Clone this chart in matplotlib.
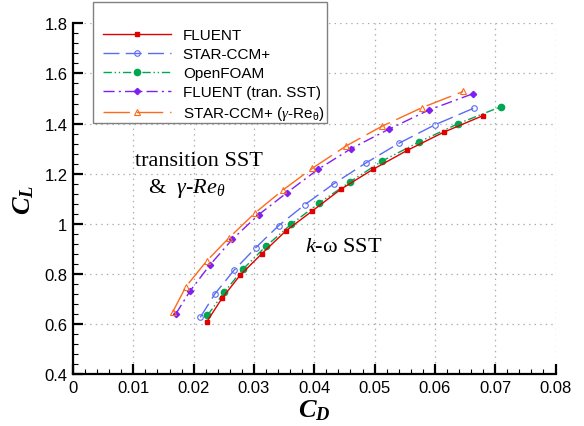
import numpy as np
import matplotlib
matplotlib.use("Agg")
import matplotlib.pyplot as plt
from matplotlib.patches import Rectangle
from matplotlib.ticker import MultipleLocator, FormatStrFormatter

plt.rcParams['font.family'] = ['Liberation Sans', 'DejaVu Sans']
plt.rcParams['mathtext.fontset'] = 'custom'
plt.rcParams['mathtext.rm'] = 'Liberation Serif'
plt.rcParams['mathtext.it'] = 'Liberation Serif:italic'
plt.rcParams['mathtext.bf'] = 'Liberation Serif:bold'
plt.rcParams['mathtext.bfit'] = 'Liberation Serif:italic:bold'
plt.rcParams['mathtext.sf'] = 'Liberation Sans'
plt.rcParams['lines.scale_dashes'] = False

# data (C_D, C_L)
fluent_cd = [0.0222, 0.0247, 0.0277, 0.0313, 0.0353, 0.0397, 0.0444, 0.0497, 0.0554, 0.0615, 0.0680]
fluent_cl = [0.610, 0.703, 0.795, 0.881, 0.972, 1.052, 1.138, 1.217, 1.293, 1.366, 1.432]

star_cd = [0.0211, 0.0235, 0.0267, 0.0303, 0.0341, 0.0384, 0.0433, 0.0485, 0.0540, 0.0600, 0.0665]
star_cl = [0.627, 0.720, 0.815, 0.905, 0.993, 1.076, 1.161, 1.242, 1.321, 1.395, 1.462]

foam_cd = [0.0223, 0.0251, 0.0282, 0.0320, 0.0362, 0.0408, 0.0459, 0.0512, 0.0574, 0.0639, 0.0710]
foam_cl = [0.635, 0.728, 0.820, 0.911, 0.999, 1.083, 1.167, 1.250, 1.327, 1.400, 1.468]

ftran_cd = [0.0170, 0.0194, 0.0227, 0.0264, 0.0308, 0.0355, 0.0406, 0.0461, 0.0524, 0.0590, 0.0663]
ftran_cl = [0.639, 0.732, 0.836, 0.938, 1.037, 1.125, 1.217, 1.300, 1.378, 1.454, 1.519]

sgam_cd = [0.0165, 0.0187, 0.0222, 0.0259, 0.0301, 0.0348, 0.0397, 0.0453, 0.0512, 0.0579, 0.0647]
sgam_cl = [0.647, 0.749, 0.853, 0.945, 1.042, 1.135, 1.222, 1.311, 1.389, 1.464, 1.528]

labels = ['FLUENT', 'STAR-CCM+', 'OpenFOAM', 'FLUENT (tran. SST)',
          r'STAR-CCM+ ($\gamma$-Re$_{\mathsf{\theta}}$)']

fig = plt.figure(figsize=(5.84, 4.27), dpi=100)
ax = fig.add_axes([73/584, 1 - 375.3/427, (555.5 - 73)/584, (375.3 - 24.3)/427])

lw = 1.0
ax.plot(fluent_cd, fluent_cl, color='#e00000', lw=lw, ls='-',
        marker='s', ms=3, mfc='#e00000', mec='#e00000', label=labels[0], zorder=4)
ax.plot(star_cd, star_cl, color='#5a6cf2', lw=lw, dashes=(11.5, 4.5),
        marker='o', ms=4, mfc='none', mec='#5a6cf2', mew=0.8, label=labels[1], zorder=3)
ax.plot(foam_cd, foam_cl, color='#00a650', lw=lw, dashes=(6, 2, 1, 2, 1, 2),
        marker='o', ms=4.5, mfc='#00a650', mec='#00a650', label=labels[2], zorder=3)
ax.plot(ftran_cd, ftran_cl, color='#8020f0', lw=lw, dashes=(8, 3, 1.5, 3),
        marker='D', ms=3.2, mfc='#8020f0', mec='#8020f0', label=labels[3], zorder=3)
ax.plot(sgam_cd, sgam_cl, color='#ff6a1a', lw=lw, dashes=(19, 5),
        marker='^', ms=5, mfc='none', mec='#ff6a1a', mew=0.8, label=labels[4], zorder=3)

ax.set_xlim(0, 0.08)
ax.set_ylim(0.4, 1.8)
ax.xaxis.set_major_locator(MultipleLocator(0.01))
ax.xaxis.set_minor_locator(MultipleLocator(0.002))
ax.yaxis.set_major_locator(MultipleLocator(0.2))
ax.yaxis.set_minor_locator(MultipleLocator(0.04))
ax.xaxis.set_major_formatter(FormatStrFormatter('%g'))
ax.yaxis.set_major_formatter(FormatStrFormatter('%g'))

for s in ['top', 'right']:
    ax.spines[s].set_visible(False)
for s in ['left', 'bottom']:
    ax.spines[s].set_linewidth(1.6)

ax.tick_params(which='major', direction='in', length=7, width=1.6, labelsize=12, pad=4)
ax.tick_params(which='minor', direction='in', length=3.5, width=0.8)
ax.grid(True, which='major', ls=(0, (1, 3)), color='#aaaaaa', lw=0.9)

ax.set_xlabel(r'$\mathbfit{C}_{\mathbfit{D}}$', fontsize=19, labelpad=2)
ax.set_ylabel(r'$\mathbfit{C}_{\mathbfit{L}}$', fontsize=19, labelpad=6)

serif = ['Liberation Serif', 'DejaVu Serif']
ax.text(0.0102, 1.251, 'transition SST', family=serif, fontsize=16, va='center')
ax.text(0.0124, 1.147, r'&  $\gamma$-$Re_{\theta}$', family=serif, fontsize=16, va='center')
ax.text(0.0385, 0.908, '$k$-ω SST', family=serif, fontsize=16, va='center')

# legend box (sticks out above the axes)
box = Rectangle((93/584, 1 - 124/427), (327 - 93)/584, (124 - 3)/427,
                transform=fig.transFigure, facecolor='white', edgecolor='#808080',
                lw=1.0, clip_on=False, zorder=5)
ax.add_patch(box)
leg = ax.legend(loc='upper left', bbox_to_anchor=(103/584, 1 - 29/427),
                bbox_transform=fig.transFigure, frameon=False, fontsize=11,
                borderpad=0, borderaxespad=0, handlelength=4.45,
                handletextpad=0.77, labelspacing=0.33, numpoints=1)
leg.set_zorder(6)

fig.savefig('out.png', dpi=100)
